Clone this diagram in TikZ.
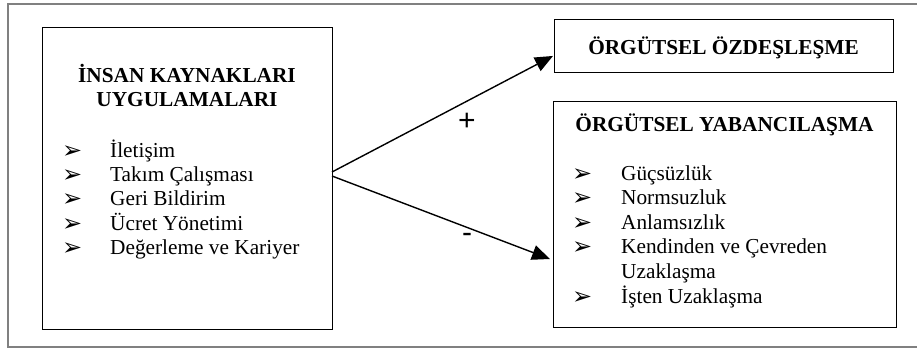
\documentclass[tikz,border=0pt]{standalone}
\usepackage{fontspec}
\setmainfont{Liberation Serif}
\newfontfamily\sansf{Liberation Sans}
\newfontfamily\dingf{DejaVu Sans}
\usetikzlibrary{arrows.meta,calc}
\tikzset{
  box/.style={draw=black, line width=0.9pt, rectangle, inner sep=0pt, anchor=north west},
  frame/.style={draw=black!50, line width=1.8pt},
  ttl/.style={inner sep=0pt, anchor=base, font=\fontsize{21.3}{24.5}\selectfont\bfseries},
  item/.style={inner sep=0pt, anchor=base west, font=\fontsize{21.3}{24.5}\selectfont},
  bul/.style={inner sep=0pt, anchor=base west, font=\dingf\fontsize{24}{28}\selectfont},
  sgn/.style={inner sep=0pt, font=\sansf\fontsize{30}{34}\selectfont},
  conn/.style={line width=1.4pt, -{Triangle[length=18pt,width=15pt]}}
}
\begin{document}
\begin{tikzpicture}[x=1pt,y=-1pt]
\useasboundingbox (0,0) rectangle (917,349);
\draw[frame] (930,4) -- (8,4) -- (8,347) -- (930,347);
% boxes
\node[box, minimum width=290pt, minimum height=302pt] (L) at (42,27) {};
\node[box, minimum width=339pt, minimum height=53pt] (T) at (554,19) {};
\node[box, minimum width=343pt, minimum height=226pt] (B) at (553,101) {};
% left content
\node[ttl] (l1) at (187,82) {İNSAN KAYNAKLARI};
\node[ttl] (l2) at (187,106) {UYGULAMALARI};
\foreach \t [count=\i] in {İletişim, Takım Çalışması, Geri Bildirim, Ücret Yönetimi, Değerleme ve Kariyer}{
  \node[bul] (lb\i) at (62,{158+24.4*(\i-1)}) {➢};
  \node[item] (li\i) at (110,{157+24.4*(\i-1)}) {\t};
}
% top right
\node[ttl] (t1) at (723.5,54) {ÖRGÜTSEL ÖZDEŞLEŞME};
% bottom right
\node[ttl] (b1) at (724.5,131) {ÖRGÜTSEL YABANCILAŞMA};
\foreach \t/\y/\b in {Güçsüzlük/180/1, Normsuzluk/204.6/1, Anlamsızlık/229.2/1, Kendinden ve Çevreden/253.8/1, Uzaklaşma/278.4/0, İşten Uzaklaşma/303/1}{
  \ifnum\b=1 \node[bul] at (572,\y+1) {➢};\fi
  \node[item] at (621,\y) {\t};
}
% connectors
\coordinate (s1) at (332,172);
\coordinate (s2) at (332,176);
\coordinate (e1) at ($(T.west)+(-1,10)$);
\coordinate (e2) at (550,259);
\draw[conn] (s1) -- (e1);
\draw[conn] (s2) -- (e2);
\node[sgn] (plus) at (467,122) {+};
\node[sgn] (minus) at (467,238) {-};
\end{tikzpicture}
\end{document}
